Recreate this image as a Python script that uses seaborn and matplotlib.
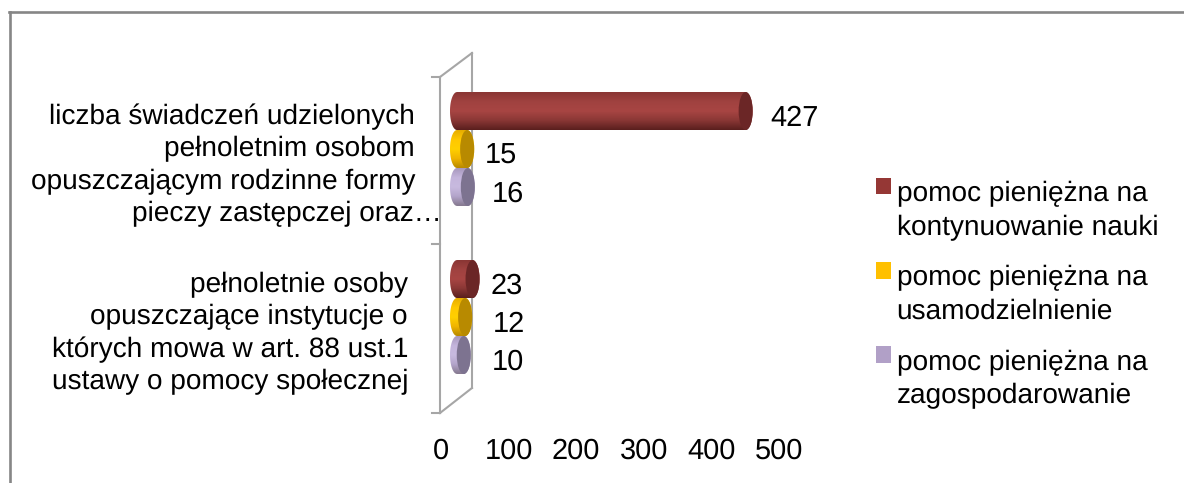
import numpy as np
import pandas as pd
import seaborn as sns
import matplotlib.pyplot as plt
from matplotlib.colors import LinearSegmentedColormap
from matplotlib.patches import Ellipse, Polygon

categories = [
    "liczba świadczeń udzielonych pełnoletnim osobom opuszczającym rodzinne formy pieczy zastępczej oraz…",
    "pełnoletnie osoby opuszczające instytucje o których mowa w art. 88 ust.1 ustawy o pomocy społecznej",
]
series_names = [
    "pomoc pieniężna na\nkontynuowanie nauki",
    "pomoc pieniężna na\nusamodzielnienie",
    "pomoc pieniężna na\nzagospodarowanie",
]
kontynuowanie = [427, 23]
usamodzielnienie = [15, 12]
zagospodarowanie = [16, 10]
x_ticks = [0, 100, 200, 300, 400, 500]

colors = ["#953735", "#ffc000", "#b1a0c7"]
cap_colors = ["#6b2626", "#b88a00", "#7d7390"]
gradients = [
    ["#8a3634", "#a04240", "#a84543", "#8a3735", "#5a1f1e"],
    ["#e6ad00", "#ffc800", "#ffd000", "#f0b400", "#b88a00"],
    ["#a899be", "#c4b5dc", "#c8badf", "#b3a4ca", "#85798f"],
]

W, H = 1184, 483
plt.rcParams["font.family"] = ["Liberation Sans", "DejaVu Sans"]
plt.rcParams["text.hinting"] = "no_hinting"
plt.rcParams["text.hinting_factor"] = 1
FS = 20
NUM_FS = 21


def px(x, y):
    return x / W, 1 - y / H


df = pd.DataFrame({
    "category": categories * 3,
    "series": np.repeat(series_names, 2),
    "value": kontynuowanie + usamodzielnienie + zagospodarowanie,
})

fig = plt.figure(figsize=(W / 100, H / 100), dpi=100, facecolor="white")
ax = fig.add_axes([441 / W, 1 - 401 / H, (795 - 441) / W, (401 - 65) / H])

sns.barplot(data=df, y="category", x="value", hue="series", palette=colors,
            width=0.678, gap=0, saturation=1, errorbar=None, ax=ax)

x_offset = 23.7
x_min, x_max = -x_offset, 500
ax.set_xlim(x_min, x_max)
ax.set_ylim(1.5, -0.5)
ax.set_xlabel("")
ax.set_ylabel("")
ax.set_yticks([])
ax.set_xticks([])
ax.patch.set_alpha(0)
for s in ax.spines.values():
    s.set_visible(False)

# x ticks sit on the front wall, bars on the middle plane
sec = ax.secondary_xaxis("bottom", functions=(lambda v: v + x_offset, lambda v: v - x_offset))
sec.set_xticks(x_ticks)
sec.tick_params(length=0, labelsize=NUM_FS, pad=26.5)
sec.spines["bottom"].set_visible(False)

# cylinder look on top of the seaborn bars
rx = 10.4
theta = np.linspace(np.pi / 2, 3 * np.pi / 2, 40)
label_dx = [[25, 18], [18, 28], [24, 28]]
for i, cont in enumerate(ax.containers):
    z = 10 - i * 2
    cmap = LinearSegmentedColormap.from_list(f"c{i}", gradients[i])
    for j, bar in enumerate(cont):
        val = bar.get_width()
        y0 = bar.get_y()
        h = bar.get_height()
        yc = y0 + h / 2
        xs = np.concatenate([rx * np.cos(theta), val - rx * np.cos(theta)])
        ys = np.concatenate([yc + h / 2 * np.sin(theta), yc - h / 2 * np.sin(theta)])
        body = Polygon(np.column_stack([xs, ys]), closed=True, transform=ax.transData,
                       facecolor="none", edgecolor="none")
        ax.add_patch(body)
        im = ax.imshow(np.linspace(0, 1, 64)[:, None], cmap=cmap, aspect="auto",
                       extent=[-rx, val + rx, y0 + h, y0], zorder=z)
        im.set_clip_path(body)
        ax.add_patch(Ellipse((val, yc), 2 * rx, h, facecolor=cap_colors[i],
                             edgecolor="none", zorder=z + 0.5))
        ax.annotate(f"{val:.0f}", (val, yc), xytext=(label_dx[i][j], -7),
                    textcoords="offset pixels", fontsize=NUM_FS, ha="left", va="center",
                    color="black", zorder=20, annotation_clip=False)
ax.set_xlim(x_min, x_max)
ax.set_ylim(1.5, -0.5)

# walls, ticks and chart frame
wall = "#a6a6a6"
wall_lines = [
    [(440, 77), (440, 413)], [(472, 53), (472, 388)],
    [(440, 77), (472, 53)], [(440, 413), (472, 388)],
    [(432, 77), (440, 77)], [(432, 244), (440, 244)], [(432, 413), (440, 413)],
]
for a, b in wall_lines:
    ax.plot(*zip(px(*a), px(*b)), transform=fig.transFigure, color=wall, lw=1.5,
            clip_on=False, zorder=1, solid_capstyle="projecting")
for a, b in [[(10, 12), (10, 483)], [(9, 12), (1184, 12)]]:
    ax.plot(*zip(px(*a), px(*b)), transform=fig.transFigure, color="#868686", lw=1.9,
            clip_on=False, zorder=1)

# category labels, wrapped the way the chart wraps them
label_lines = [
    ("liczba świadczeń udzielonych", 415, 124),
    ("pełnoletnim osobom", 415, 156),
    ("opuszczającym rodzinne formy", 415, 189),
    ("pieczy zastępczej oraz…", 442, 221),
    ("pełnoletnie osoby", 408, 292),
    ("opuszczające instytucje o", 408, 324),
    ("których mowa w art. 88 ust.1", 408, 357),
    ("ustawy o pomocy społecznej", 408, 389),
]
for txt, x, y in label_lines:
    fig.text(*px(x, y), txt, fontsize=FS, ha="right", va="baseline", color="black")

handles, labels = ax.get_legend_handles_labels()
leg = ax.legend(handles, labels, loc="upper left", bbox_to_anchor=px(876, 181),
                bbox_transform=fig.transFigure, frameon=False, fontsize=FS,
                handlelength=0.54, handleheight=0.54, handletextpad=0.2,
                labelspacing=0.88, borderpad=0, borderaxespad=0)
for t in leg.get_texts():
    t.set_linespacing(1.37)
for hd in leg.legend_handles:
    hd.set_y(hd.get_y() + 18)

fig.savefig("out.png", dpi=100)
